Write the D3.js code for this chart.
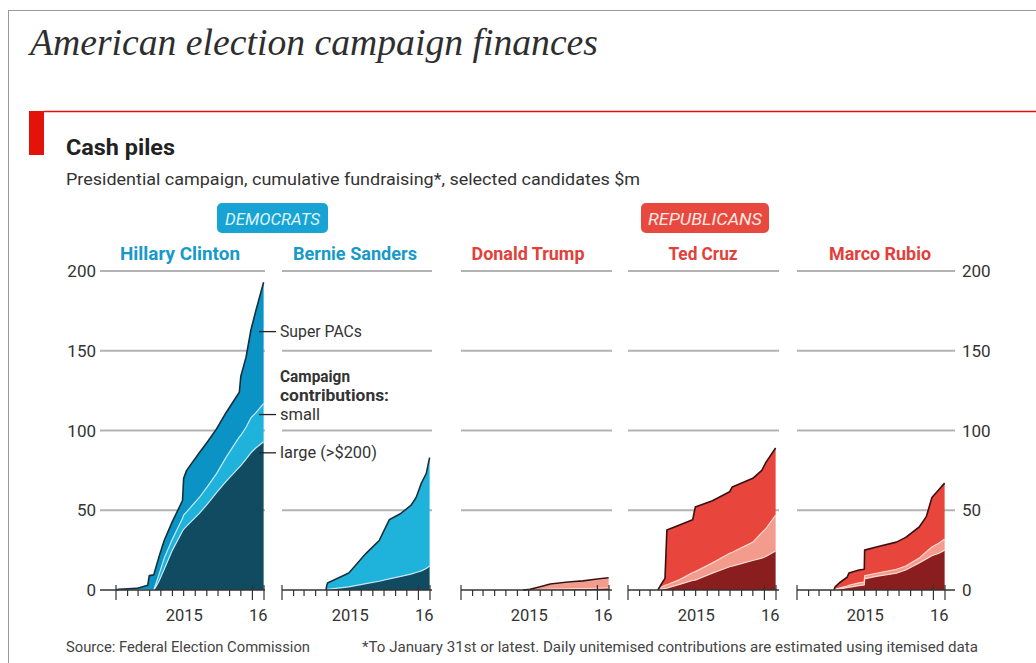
<!DOCTYPE html>
<html>
<head>
<meta charset="utf-8">
<script src="https://cdn.jsdelivr.net/npm/d3@7"></script>
<style>
  body { margin: 0; background: #fff; }
  svg { display: block; }
  text { font-family: Roboto, "Open Sans", sans-serif; }
</style>
</head>
<body>
<svg id="chart" width="1036" height="663"></svg>
<script>
// Cumulative fundraising, $m, split into large itemised contributions,
// small contributions and Super PAC money.
const yTicks = [0, 50, 100, 150, 200];
const yearLabels = ["2015", "16"];

const clintonDates = ["2015-01-01","2015-01-08","2015-02-25","2015-03-27","2015-03-31","2015-04-12","2015-04-15","2015-04-25","2015-05-10","2015-06-01","2015-06-28","2015-07-01","2015-07-09","2015-08-12","2015-09-03","2015-09-27","2015-10-22","2015-11-27","2015-12-01","2015-12-15","2015-12-28","2016-01-10","2016-01-31"];
const clintonLarge = [0,0,0,0,0,0,1,5,13,25,37,38,40,48,54,61,68,77,78,82,86,89,93];
const clintonSmall = [0,0,0,0,0,0,1,4,7,7,8,9,9,10,11,12,15,19,19,20,22,22,24];
const clintonPacs  = [0,0.5,1,3,9,9.5,10,11,11,11,11,23,26,28,28,28,28,28,37,44,55,64,76];

const sandersDates = ["2015-04-29","2015-04-30","2015-05-03","2015-06-29","2015-08-14","2015-09-18","2015-10-15","2015-11-15","2015-12-12","2015-12-26","2016-01-09","2016-01-22","2016-01-31"];
const sandersLarge = [0,0.2,0.4,2,4,5.5,7,8.5,10,11,12,13.5,15];
const sandersSmall = [0,1.8,4,8.6,19,25.5,37,39.5,43,47,55,59.5,68];
const sandersPacs  = [0,0,0,0,0,0,0,0,0,0,0,0,0];

const trumpDates = ["2015-06-16","2015-07-05","2015-08-01","2015-08-28","2015-10-15","2015-11-24","2016-01-01","2016-01-31"];
const trumpLarge = [0,0.1,0.3,0.5,0.7,0.9,1.1,1.3];
const trumpSmall = [0,0.4,1.7,3.1,4.1,4.6,5.5,6.1];
const trumpPacs  = [0,0,0,0.2,0.2,0.2,0.3,0.3];

const cruzDates = ["2015-03-22","2015-04-02","2015-04-10","2015-04-15","2015-05-19","2015-06-23","2015-06-30","2015-08-15","2015-09-30","2015-10-07","2015-12-01","2015-12-25","2016-01-05","2016-01-31"];
const cruzLarge = [0,0.6,1,1.2,3.5,6,6.2,10.6,14.6,15,18.5,20,21,24.5];
const cruzSmall = [0,1.4,2,2.1,3,5,5.3,6.4,8.4,8.7,11.5,16,17.5,22.5];
const cruzPacs  = [0,2.4,4.3,34.3,34.3,33,40.5,39,38.6,40.9,40,39,41.5,42];

const rubioDates = ["2015-04-10","2015-04-13","2015-04-24","2015-05-15","2015-05-20","2015-06-16","2015-06-30","2015-07-01","2015-08-01","2015-09-24","2015-10-19","2015-11-24","2015-12-13","2015-12-28","2016-01-16","2016-01-31"];
const rubioLarge = [0,0.2,0.6,1.5,1.7,2.8,3.2,7,8.5,10.5,12.5,17,19.5,21.5,23,25];
const rubioSmall = [0,0.3,0.6,1,1.3,1.7,1.8,2,2,2.5,2.5,3,4.5,5.5,6.5,7];
const rubioPacs  = [0,1.5,3.2,5.5,7.6,8,8,16,16.5,17,18,19.5,22,31,33.5,35];

const candidates = [
  { name: "Hillary Clinton", party: "dem", dates: clintonDates, large: clintonLarge, small: clintonSmall, pacs: clintonPacs },
  { name: "Bernie Sanders",  party: "dem", dates: sandersDates, large: sandersLarge, small: sandersSmall, pacs: sandersPacs },
  { name: "Donald Trump",    party: "rep", dates: trumpDates,   large: trumpLarge,   small: trumpSmall,   pacs: trumpPacs },
  { name: "Ted Cruz",        party: "rep", dates: cruzDates,    large: cruzLarge,    small: cruzSmall,    pacs: cruzPacs },
  { name: "Marco Rubio",     party: "rep", dates: rubioDates,   large: rubioLarge,   small: rubioSmall,   pacs: rubioPacs }
];

// Panel geometry
const panelLayout = [
  { x0: 116, gridL: 100, gridR: 265, nameX: 180, nameW: 120 },
  { x0: 282, gridL: 282, gridR: 432, nameX: 355, nameW: 124 },
  { x0: 461, gridL: 461, gridR: 612, nameX: 528, nameW: 113 },
  { x0: 628, gridL: 628, gridR: 779, nameX: 703, nameW: 69 },
  { x0: 797, gridL: 797, gridR: 955, nameX: 880, nameW: 102 }
];
const panelWidth = 148;

const palette = {
  dem: { large: "#114b61", small: "#1fb3dc", pacs: "#0b93c5", name: "#1799c9", top: "#13303d", sep: "#d2f0f9", badge: "#17a3d3", badgeText: "#dff4fb" },
  rep: { large: "#8a1d1d", small: "#f39b8c", pacs: "#e8453d", name: "#e2403a", top: "#3a1111", sep: "#fde0d7", badge: "#e8493f", badgeText: "#fde8e4" }
};

const parse = d3.timeParse("%Y-%m-%d");
const domainStart = parse("2015-01-01");
const yearSplit = parse("2016-01-01");
const domainEnd = parse("2016-02-01");

const svg = d3.select("#chart");
const ink = "#333";

function fit(sel, w) {
  return sel.attr("textLength", w).attr("lengthAdjust", "spacingAndGlyphs");
}

// Frame and headings
svg.append("rect").attr("x", 8.5).attr("y", 10.5).attr("width", 1100).attr("height", 700)
  .attr("fill", "none").attr("stroke", "#9a9a9a").attr("stroke-width", 1);

fit(svg.append("text").attr("x", 30).attr("y", 55)
  .style("font-family", "'Liberation Serif', 'DejaVu Serif', serif")
  .style("font-style", "italic").style("font-size", "37px").attr("fill", "#2e2e2e")
  .text("American election campaign finances"), 568);

svg.append("line").attr("x1", 44).attr("x2", 1036).attr("y1", 111.5).attr("y2", 111.5)
  .attr("stroke", "#e3120b").attr("stroke-width", 1.5);
svg.append("rect").attr("x", 29).attr("y", 111).attr("width", 15).attr("height", 44).attr("fill", "#e3120b");

fit(svg.append("text").attr("x", 66).attr("y", 155).style("font-size", "22px").style("font-weight", 700)
  .attr("fill", "#222").text("Cash piles"), 109);
fit(svg.append("text").attr("x", 66).attr("y", 185).style("font-size", "16px").attr("fill", ink)
  .text("Presidential campaign, cumulative fundraising*, selected candidates $m"), 574);

// Party badges
const badges = [
  { label: "DEMOCRATS", party: "dem", x: 217, w: 111, tw: 95 },
  { label: "REPUBLICANS", party: "rep", x: 641, w: 128, tw: 114 }
];
badges.forEach(b => {
  svg.append("rect").attr("x", b.x).attr("y", 203).attr("width", b.w).attr("height", 30).attr("rx", 5)
    .attr("fill", palette[b.party].badge);
  fit(svg.append("text").attr("x", b.x + b.w / 2).attr("y", 225).attr("text-anchor", "middle")
    .style("font-size", "17px").style("font-style", "italic").attr("fill", palette[b.party].badgeText)
    .text(b.label), b.tw);
});

const y = d3.scaleLinear().domain([0, 200]).range([590, 271]);

// Value axis labels on both sides
yTicks.forEach(t => {
  svg.append("text").attr("x", 96).attr("y", y(t) + 6).attr("text-anchor", "end")
    .style("font-size", "17px").attr("fill", ink).text(t);
  svg.append("text").attr("x", 962).attr("y", y(t) + 6)
    .style("font-size", "17px").attr("fill", ink).text(t);
});

candidates.forEach((c, i) => {
  const L = panelLayout[i];
  const col = palette[c.party];
  const x = d3.scaleTime().domain([domainStart, domainEnd]).range([L.x0, L.x0 + panelWidth]);
  const g = svg.append("g");

  // gridlines
  g.selectAll("line.grid").data(yTicks.filter(t => t > 0)).join("line")
    .attr("x1", L.gridL).attr("x2", L.gridR)
    .attr("y1", d => y(d)).attr("y2", d => y(d))
    .attr("stroke", "#b3b3b3").attr("stroke-width", 1.8);

  // name
  fit(g.append("text").attr("x", L.nameX).attr("y", 260).attr("text-anchor", "middle")
    .style("font-size", "18px").style("font-weight", 700).attr("fill", col.name).text(c.name), L.nameW);

  // stacked areas
  const rows = c.dates.map((d, k) => ({ date: parse(d), large: c.large[k], small: c.small[k], pacs: c.pacs[k] }));
  const keys = ["large", "small", "pacs"];
  const series = d3.stack().keys(keys)(rows);
  const area = d3.area().x(d => x(d.data.date)).y0(d => y(d[0])).y1(d => y(d[1]));
  g.selectAll("path.layer").data(series).join("path")
    .attr("d", area).attr("fill", s => col[s.key]);

  // separators between layers
  const topLine = d3.line().x(d => x(d.data.date)).y(d => y(d[1]));
  [series[0], series[1]].forEach(s => {
    g.append("path").attr("d", topLine(s)).attr("fill", "none")
      .attr("stroke", col.sep).attr("stroke-width", 1.2).attr("opacity", 0.9);
  });
  g.append("path").attr("d", topLine(series[2])).attr("fill", "none")
    .attr("stroke", col.top).attr("stroke-width", 1.6).attr("stroke-linejoin", "round");

  // baseline axis
  g.append("line").attr("x1", L.gridL).attr("x2", L.gridR).attr("y1", y(0)).attr("y2", y(0))
    .attr("stroke", ink).attr("stroke-width", 1.3);
  const months = d3.timeMonth.range(domainStart, d3.timeDay.offset(domainEnd, 1));
  const tall = [domainStart, yearSplit, domainEnd].map(d => +d);
  g.selectAll("line.tick").data(months).join("line")
    .attr("x1", d => x(d)).attr("x2", d => x(d))
    .attr("y1", d => tall.includes(+d) ? y(0) - 5 : y(0))
    .attr("y2", d => tall.includes(+d) ? y(0) + 10 : y(0) + 6)
    .attr("stroke", ink).attr("stroke-width", 1.2);

  const spans = [[domainStart, yearSplit], [yearSplit, domainEnd]];
  spans.forEach((sp, k) => {
    g.append("text").attr("x", (x(sp[0]) + x(sp[1])) / 2).attr("y", 621).attr("text-anchor", "middle")
      .style("font-size", "16.5px").attr("fill", ink).text(yearLabels[k]);
  });
});

// Layer annotations beside the Clinton panel
const notes = [
  { v: 162, lines: [{ t: "Super PACs", bold: false, w: 82 }] },
  { v: 110, lines: [{ t: "Campaign", bold: true, w: 70, dy: -38 }, { t: "contributions:", bold: true, w: 109, dy: -19 }, { t: "small", bold: false, w: 40, dy: 0 }] },
  { v: 86, lines: [{ t: "large (>$200)", bold: false, w: 97 }] }
];
notes.forEach(n => {
  const yy = y(n.v);
  svg.append("line").attr("x1", 259).attr("x2", 276).attr("y1", yy).attr("y2", yy)
    .attr("stroke", "#222").attr("stroke-width", 1.3);
  n.lines.forEach(l => {
    fit(svg.append("text").attr("x", 280).attr("y", yy + 5 + (l.dy || 0))
      .style("font-size", "16px").style("font-weight", l.bold ? 700 : 400).attr("fill", ink).text(l.t), l.w);
  });
});

// Footer
fit(svg.append("text").attr("x", 66).attr("y", 652).style("font-size", "14.5px").attr("fill", "#444")
  .text("Source: Federal Election Commission"), 244);
fit(svg.append("text").attr("x", 362).attr("y", 652).style("font-size", "14.5px").attr("fill", "#444")
  .text("*To January 31st or latest. Daily unitemised contributions are estimated using itemised data"), 616);
</script>
</body>
</html>
